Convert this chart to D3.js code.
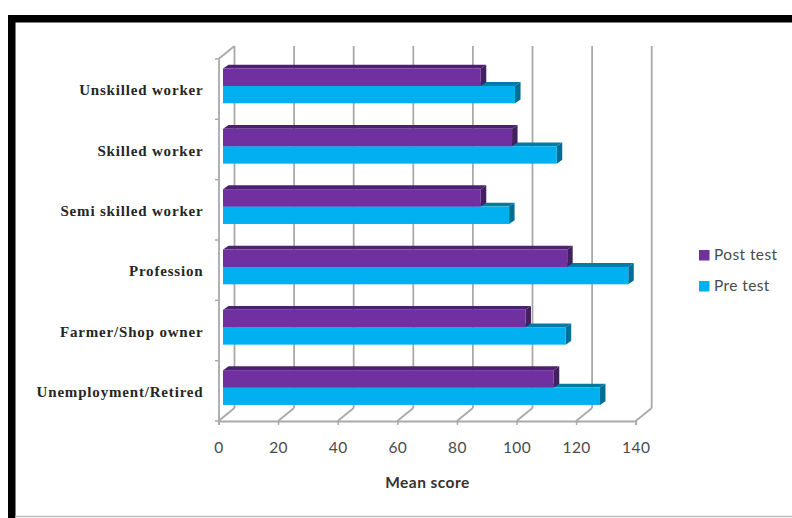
<!DOCTYPE html>
<html>
<head>
<meta charset="utf-8">
<script src="https://cdn.jsdelivr.net/npm/d3@7"></script>
<style>
html,body{margin:0;padding:0;background:#fff}
svg{display:block}
</style>
</head>
<body>
<svg id="chart" width="792" height="518"></svg>
<script>
// Chart data
const categories = ["Unskilled worker","Skilled worker","Semi skilled worker","Profession","Farmer/Shop owner","Unemployment/Retired"];
const seriesNames = ["Post test","Pre test"];
const postTest = [86.5,97,86.5,115.5,101.5,111];
const preTest = [98,112,96,136,115,126.5];
const xTicks = [0,20,40,60,80,100,120,140];

const seriesValues = [postTest, preTest];
const faceColors = ["#7030a0","#00b0f0"];
const topColors = ["#4e2170","#007ba8"];
const sideColors = ["#43205f","#006d94"];
const gridColor = "#a9a9a9";

const svg = d3.select("#chart");

// Picture frame: heavy black on the top and left, hairline along the bottom
svg.append("rect").attr("x",8).attr("y",15).attr("width",784).attr("height",7.5).attr("fill","#000");
svg.append("rect").attr("x",8).attr("y",15).attr("width",7.5).attr("height",503).attr("fill","#000");
svg.append("line").attr("x1",15).attr("x2",792).attr("y1",516.5).attr("y2",516.5).attr("stroke","#bdbdbd").attr("stroke-width",1.5);

// Front-plane scales; the walls sit behind them by the depth offset
const x = d3.scaleLinear().domain([0,140]).range([218.5,635.7]);
const y = d3.scaleBand().domain(categories).range([59,421]);
const depth = {dx:16, dy:-13};
const barDepth = {dx:5.5, dy:-3.8};
const barShift = {dx:4.5, dy:0};
const inner = d3.scaleBand().domain(seriesNames).range([9.5,44.3]);

const walls = svg.append("g").attr("fill","none").attr("stroke",gridColor).attr("stroke-width",1.8);
// Back wall verticals and floor diagonals
walls.selectAll("line.grid").data(xTicks).join("line").attr("class","grid")
  .attr("x1",d=>x(d)+depth.dx).attr("x2",d=>x(d)+depth.dx)
  .attr("y1",y.range()[0]+depth.dy).attr("y2",y.range()[1]+depth.dy);
walls.selectAll("line.floor").data(xTicks).join("line").attr("class","floor")
  .attr("x1",d=>x(d)).attr("x2",d=>x(d)+depth.dx)
  .attr("y1",y.range()[1]).attr("y2",y.range()[1]+depth.dy);
// Left side wall top edge
walls.append("line")
  .attr("x1",x(0)).attr("y1",y.range()[0])
  .attr("x2",x(0)+depth.dx).attr("y2",y.range()[0]+depth.dy);

// Category axis
const yAxis = svg.append("g").attr("transform",`translate(${x(0)},0)`)
  .call(d3.axisLeft(y).tickSizeOuter(0).tickSize(0).tickPadding(15));
yAxis.select(".domain").attr("stroke",gridColor).attr("stroke-width",1.8);
yAxis.selectAll("text")
  .attr("font-family","'Liberation Serif', serif").attr("font-weight","bold")
  .attr("font-size",15).attr("letter-spacing",0.82).attr("fill","#262626").attr("dy","0.42em");
// Ticks on band boundaries
svg.append("g").selectAll("line").data(d3.range(0,7)).join("line")
  .attr("x1",x(0)-3.5).attr("x2",x(0))
  .attr("y1",i=>y.range()[0]+i*y.step()).attr("y2",i=>y.range()[0]+i*y.step())
  .attr("stroke",gridColor).attr("stroke-width",1.5);

// Value axis
const xAxis = svg.append("g").attr("transform",`translate(0,${y.range()[1]})`)
  .call(d3.axisBottom(x).tickValues(xTicks).tickSize(4).tickPadding(16.5));
xAxis.select(".domain").attr("stroke",gridColor).attr("stroke-width",1.8);
xAxis.selectAll(".tick line").attr("stroke",gridColor).attr("stroke-width",1.5);
xAxis.selectAll("text")
  .attr("font-family","Lato, sans-serif").attr("font-size",15.5).attr("letter-spacing",0.4).attr("fill","#4a4a4a");

// Extruded bars, lower series first so the upper bar's face covers its top
const barsLayer = svg.append("g");
categories.forEach((cat,ci)=>{
  [1,0].forEach(si=>{
    const name = seriesNames[si];
    const v = seriesValues[si][ci];
    const x0 = x(0)+barShift.dx, x1 = x(v)+barShift.dx;
    const y0 = y(cat)+inner(name), h = inner.bandwidth();
    const g = barsLayer.append("g");
    const poly = pts => pts.map(p=>p.join(",")).join(" ");
    g.append("polygon").attr("fill",topColors[si]).attr("points",poly([
      [x0,y0],[x0+barDepth.dx,y0+barDepth.dy],[x1+barDepth.dx,y0+barDepth.dy],[x1,y0]]));
    g.append("polygon").attr("fill",sideColors[si]).attr("points",poly([
      [x1,y0],[x1+barDepth.dx,y0+barDepth.dy],[x1+barDepth.dx,y0+h+barDepth.dy],[x1,y0+h]]));
    g.append("rect").attr("x",x0).attr("y",y0).attr("width",x1-x0).attr("height",h).attr("fill",faceColors[si]);
  });
});

// Axis title
svg.append("text").attr("x",427.5).attr("y",488).attr("text-anchor","middle")
  .attr("font-family","Lato, sans-serif").attr("font-weight","bold")
  .attr("font-size",15.5).attr("letter-spacing",0.45).attr("fill","#333").text("Mean score");

// Legend
const legend = svg.append("g").selectAll("g").data(seriesNames).join("g")
  .attr("transform",(d,i)=>`translate(699,${250+i*31})`);
legend.append("rect").attr("width",10.5).attr("height",10.5).attr("fill",(d,i)=>faceColors[i]);
legend.append("text").attr("x",15).attr("y",10)
  .attr("font-family","Lato, sans-serif").attr("font-size",15.5).attr("letter-spacing",0.4).attr("fill","#4a4a4a").text(d=>d);
</script>
</body>
</html>
